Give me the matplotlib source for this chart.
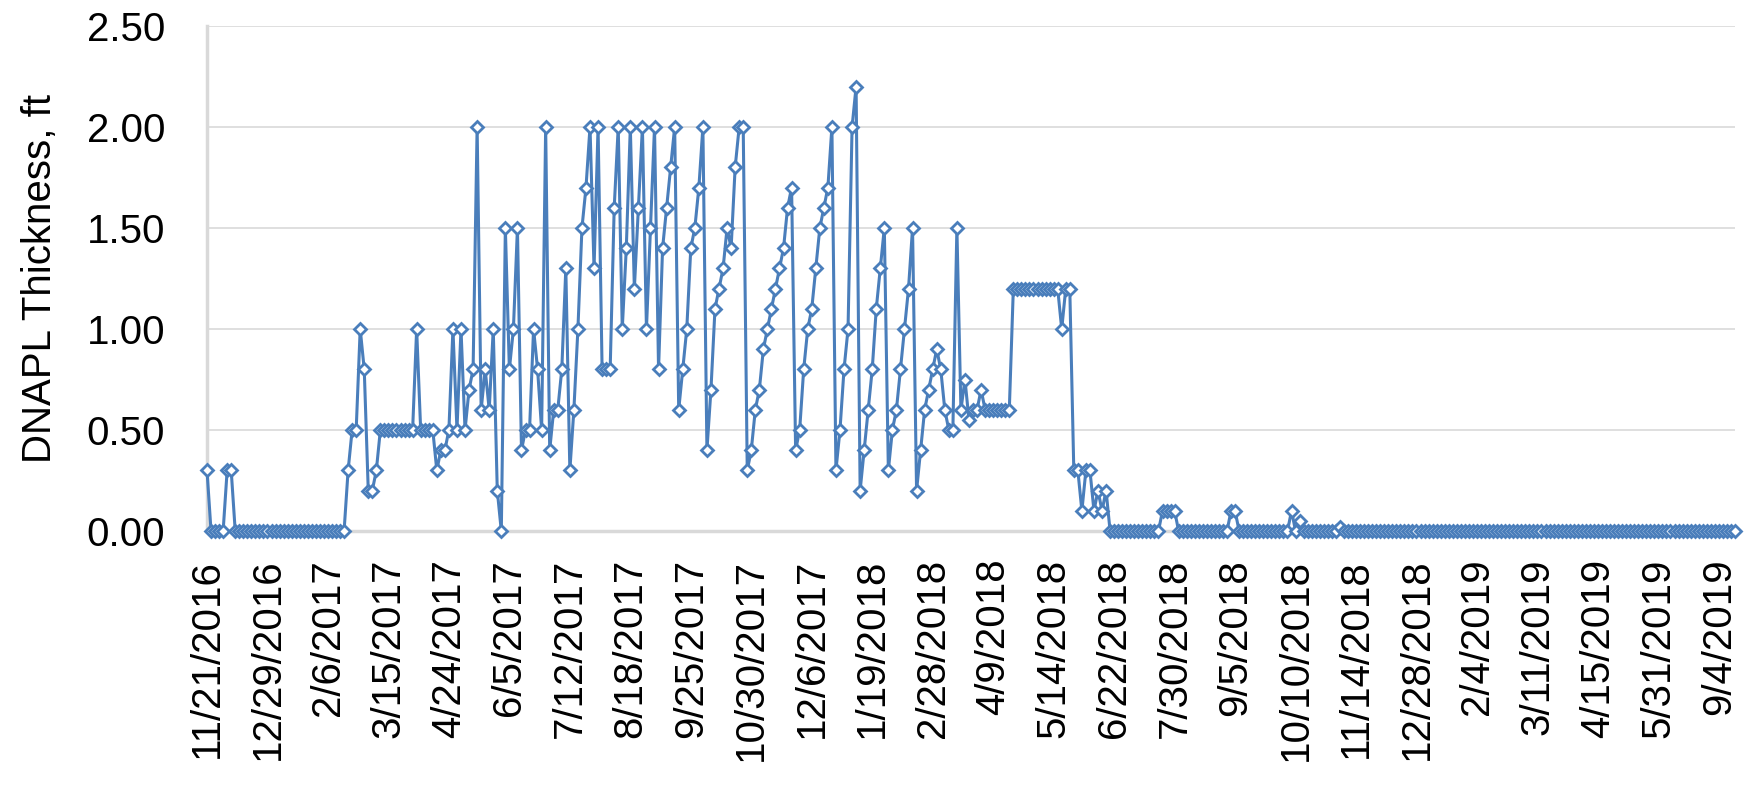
import matplotlib
matplotlib.use("Agg")
import matplotlib.pyplot as plt
from matplotlib import font_manager

# DNAPL thickness readings (ft), one per gauging event, in order
dnapl_early = [
    0.3, 0.0, 0.0, 0.0, 0.0, 0.3, 0.3, 0.0, 0.0, 0.0, 0.0, 0.0, 0.0, 0.0, 0.0,
    0.0, 0.0, 0.0, 0.0, 0.0, 0.0, 0.0, 0.0, 0.0, 0.0, 0.0, 0.0, 0.0, 0.0, 0.0,
    0.0, 0.0, 0.0, 0.0, 0.0, 0.3, 0.5, 0.5, 1.0, 0.8, 0.2, 0.2, 0.3, 0.5, 0.5,
    0.5, 0.5, 0.5, 0.5, 0.5, 0.5, 0.5, 1.0, 0.5, 0.5, 0.5, 0.5, 0.3, 0.4, 0.4,
]
dnapl_peak = [
    0.5, 1.0, 0.5, 1.0, 0.5, 0.7, 0.8, 2.0, 0.6, 0.8, 0.6, 1.0, 0.2, 0.0, 1.5,
    0.8, 1.0, 1.5, 0.4, 0.5, 0.5, 1.0, 0.8, 0.5, 2.0, 0.4, 0.6, 0.6, 0.8, 1.3,
    0.3, 0.6, 1.0, 1.5, 1.7, 2.0, 1.3, 2.0, 0.8, 0.8, 0.8, 1.6, 2.0, 1.0, 1.4,
    2.0, 1.2, 1.6, 2.0, 1.0, 1.5, 2.0, 0.8, 1.4, 1.6, 1.8, 2.0, 0.6, 0.8, 1.0,
    1.4, 1.5, 1.7, 2.0, 0.4, 0.7, 1.1, 1.2, 1.3, 1.5, 1.4, 1.8, 2.0, 2.0, 0.3,
    0.4, 0.6, 0.7, 0.9, 1.0, 1.1, 1.2, 1.3, 1.4, 1.6, 1.7, 0.4, 0.5, 0.8, 1.0,
    1.1, 1.3, 1.5, 1.6, 1.7, 2.0, 0.3, 0.5, 0.8, 1.0, 2.0, 2.2, 0.2, 0.4, 0.6,
    0.8, 1.1, 1.3, 1.5, 0.3, 0.5, 0.6, 0.8, 1.0, 1.2, 1.5, 0.2, 0.4, 0.6, 0.7,
    0.8, 0.9, 0.8, 0.6, 0.5, 0.5, 1.5, 0.6, 0.75, 0.55, 0.6, 0.6, 0.7, 0.6, 0.6,
    0.6, 0.6, 0.6, 0.6, 0.6,
]
dnapl_plateau = [
    1.2, 1.2, 1.2, 1.2, 1.2, 1.2, 1.2, 1.2, 1.2, 1.2,
    1.2, 1.2, 1.0, 1.2, 1.2, 0.3, 0.3, 0.1, 0.3, 0.3, 0.1, 0.2, 0.1, 0.2,
]
dnapl_late = [
    0.0,
    0.0, 0.0, 0.0, 0.0, 0.0, 0.0, 0.0, 0.0, 0.0, 0.0, 0.0, 0.0, 0.1, 0.1, 0.1,
    0.1, 0.0, 0.0, 0.0, 0.0, 0.0, 0.0, 0.0, 0.0, 0.0, 0.0, 0.0, 0.0, 0.0, 0.1,
    0.1, 0.0, 0.0, 0.0, 0.0, 0.0, 0.0, 0.0, 0.0, 0.0, 0.0, 0.0, 0.0, 0.0, 0.1,
    0.0, 0.05, 0.0, 0.0, 0.0, 0.0, 0.0, 0.0, 0.0, 0.0, 0.0, 0.02, 0.0, 0.0, 0.0,
    0.0, 0.0, 0.0, 0.0, 0.0, 0.0, 0.0, 0.0, 0.0, 0.0, 0.0, 0.0, 0.0, 0.0, 0.0,
    0.0, 0.0, 0.0, 0.0, 0.0, 0.0, 0.0, 0.0, 0.0, 0.0, 0.0, 0.0, 0.0, 0.0, 0.0,
    0.0, 0.0, 0.0, 0.0, 0.0, 0.0, 0.0, 0.0, 0.0, 0.0, 0.0, 0.0, 0.0, 0.0, 0.0,
    0.0, 0.0, 0.0, 0.0, 0.0, 0.0, 0.0, 0.0, 0.0, 0.0, 0.0, 0.0, 0.0, 0.0, 0.0,
    0.0, 0.0, 0.0, 0.0, 0.0, 0.0, 0.0, 0.0, 0.0, 0.0, 0.0, 0.0, 0.0, 0.0, 0.0,
    0.0, 0.0, 0.0, 0.0, 0.0, 0.0, 0.0, 0.0, 0.0, 0.0, 0.0, 0.0, 0.0, 0.0, 0.0,
    0.0, 0.0, 0.0, 0.0, 0.0,
]

# category labels shown on the axis (one every 15 readings)
tick_labels = [
    "11/21/2016", "12/29/2016", "2/6/2017", "3/15/2017", "4/24/2017",
    "6/5/2017", "7/12/2017", "8/18/2017", "9/25/2017", "10/30/2017",
    "12/6/2017", "1/19/2018", "2/28/2018", "4/9/2018", "5/14/2018",
    "6/22/2018", "7/30/2018", "9/5/2018", "10/10/2018", "11/14/2018",
    "12/28/2018", "2/4/2019", "3/11/2019", "4/15/2019", "5/31/2019",
    "9/4/2019",
]
label_step = 15

thickness = dnapl_early + dnapl_peak + dnapl_plateau + dnapl_late
idx = list(range(len(thickness)))

names = {f.name for f in font_manager.fontManager.ttflist}
fam = "Liberation Sans Narrow" if "Liberation Sans Narrow" in names else "Liberation Sans"
plt.rcParams['font.family'] = [fam, 'DejaVu Sans']

blue = '#4A7EBB'
grey = '#D9D9D9'

fig = plt.figure(figsize=(17.52, 7.94), dpi=100)
ax = fig.add_axes([207/1752, 1-531/794, (1735-207)/1752, (531-26)/794])

ax.plot(idx, thickness, color=blue, lw=2.2, marker='D', markersize=6,
        markerfacecolor='white', markeredgecolor=blue, markeredgewidth=2.0,
        clip_on=False, zorder=3)

ax.set_xlim(0, len(thickness) - 1)
ax.set_ylim(0, 2.5)
ax.set_yticks([0, 0.5, 1.0, 1.5, 2.0, 2.5])
ax.set_yticklabels(['{:.2f}'.format(v) for v in [0, 0.5, 1.0, 1.5, 2.0, 2.5]])
ax.set_xticks([i * label_step for i in range(len(tick_labels))])
ax.set_xticklabels(tick_labels, rotation=90, ha='center', va='top')

ax.grid(axis='y', color=grey, lw=1.2)
ax.set_axisbelow(True)
for s in ['top', 'right']:
    ax.spines[s].set_visible(False)
ax.spines['left'].set_color(grey)
ax.spines['left'].set_linewidth(2.5)
ax.spines['bottom'].set_color(grey)
ax.spines['bottom'].set_linewidth(2.5)
ax.tick_params(axis='both', length=0, labelsize=29)
ax.tick_params(axis='y', pad=30)
ax.tick_params(axis='x', pad=20)

ax.set_ylabel('DNAPL Thickness, ft', fontsize=29, labelpad=20)

fig.savefig('out.png', dpi=100)
